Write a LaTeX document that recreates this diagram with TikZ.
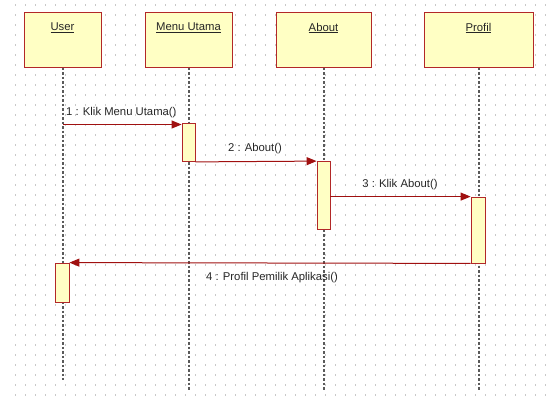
\documentclass[tikz,border=0pt]{standalone}
\usepackage{fontspec}
\setmainfont{Liberation Sans}
\usetikzlibrary{arrows.meta}
\definecolor{boxfill}{RGB}{255,255,196}
\definecolor{boxdraw}{RGB}{178,40,40}
\definecolor{msgcol}{RGB}{160,16,16}
\definecolor{dotcol}{RGB}{200,200,200}
\definecolor{lifecol}{RGB}{90,90,90}
\tikzset{
  objbox/.style={draw=boxdraw, fill=boxfill, line width=1pt, rectangle, minimum height=55pt, inner sep=0pt},
  actbox/.style={draw=boxdraw, fill=boxfill, line width=0.8pt, rectangle, inner sep=0pt},
  title/.style={font=\fontsize{11.3}{13}\selectfont, inner sep=0pt, text=black!85},
  msglabel/.style={font=\fontsize{11.3}{13}\selectfont, inner sep=0pt, text=black!85},
  lifeline/.style={draw=lifecol, line width=1.4pt, dash pattern=on 2.5pt off 2pt},
  msg/.style={draw=msgcol, line width=1pt, -{Triangle[length=10pt,width=8pt]}},
  gridrow/.style={draw=dotcol, line width=1.2pt, dash pattern=on 1.2pt off 8.8pt}
}
\begin{document}
\begin{tikzpicture}[x=1pt,y=-1pt]
\useasboundingbox (0,0) rectangle (551,407);
% dotted background
\foreach \yy in {5,15,...,395} {
  \draw[gridrow] (15,\yy) -- (546,\yy);
}
% objects
\node[objbox, minimum width=77pt]  (user)  at (62.5,39.5) {};
\node[objbox, minimum width=87pt]  (menu)  at (188.5,39.5) {};
\node[objbox, minimum width=95pt]  (about) at (323.5,39.5) {};
\node[objbox, minimum width=109pt] (profil) at (478.5,39.5) {};
\node[title] (tuser)   at (62.5,28) {\underline{User}};
\node[title] (tmenu)   at (188.5,28) {\underline{Menu Utama}};
\node[title] (tabout)  at (323.5,28) {\underline{About}};
\node[title] (tprofil) at (478.5,28) {\underline{Profil}};
% lifeline ends
\coordinate (userend)   at (63,380);
\coordinate (menuend)   at (189,390);
\coordinate (aboutend)  at (324,390);
\coordinate (profilend) at (479,390);
\draw[lifeline] (user.south -| userend) -- (userend);
\draw[lifeline] (menu.south -| menuend) -- (menuend);
\draw[lifeline] (about.south -| aboutend) -- (aboutend);
\draw[lifeline] (profil.south -| profilend) -- (profilend);
% activations
\node[actbox, minimum width=13pt, minimum height=38pt] (a1) at (188.5,142.5) {};
\node[actbox, minimum width=13pt, minimum height=68pt] (a2) at (323.5,195.5) {};
\node[actbox, minimum width=14pt, minimum height=66pt] (a3) at (478,230) {};
\node[actbox, minimum width=14pt, minimum height=39pt] (a4) at (62,282.5) {};
% messages
\coordinate (m1s) at (63,124.5);
\draw[msg] (m1s) -- (a1.west |- m1s);
\draw[msg] (a1.south east) -- (a2.north west);
\draw[msg] (a2.east |- a3.north) -- (a3.north west);
\draw[msg] (a3.south west) -- (a4.north east);
% labels
\node[msglabel, anchor=west] (l1) at (66,113) {1 : Klik Menu Utama()};
\node[msglabel] (l2) at (255,149) {2 : About()};
\node[msglabel] (l3) at (400,185) {3 : Klik About()};
\node[msglabel] (l4) at (272,278) {4 : Profil Pemilik Aplikasi()};
\end{tikzpicture}
\end{document}
